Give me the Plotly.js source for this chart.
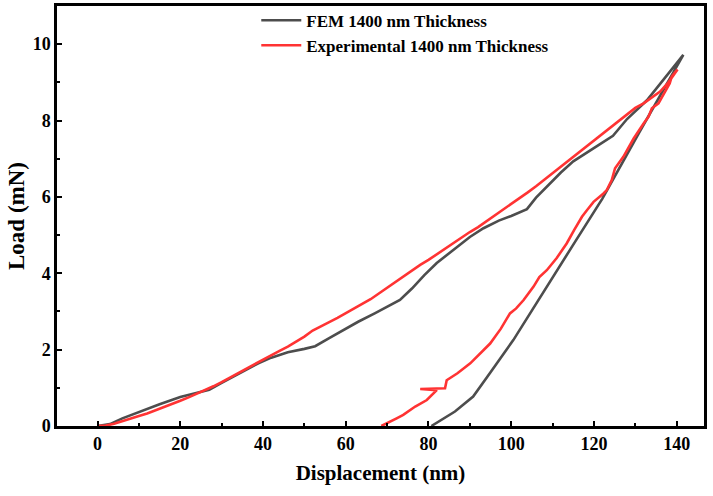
<!DOCTYPE html>
<html>
<head>
<meta charset="utf-8">
<script src="https://cdn.plot.ly/plotly-3.0.1.min.js"></script>
<style>
  html, body { margin: 0; padding: 0; background: #ffffff; }
  #chart { width: 713px; height: 496px; }
</style>
</head>
<body>
<div id="chart"></div>
<script>
// Load–displacement curves of a 1400 nm film: FEM simulation vs. nanoindentation test

// FEM: loading branch followed by the unloading branch
const femDisplacement = [
  0, 3, 6, 10, 15, 20, 23, 25, 27, 30, 33, 36, 39, 42, 46, 50, 52.6, 56, 59.4, 63, 67, 70, 73.1,
  76, 79, 82, 86, 90, 93.3, 97, 100, 103.8, 106, 109.4, 112, 115, 118, 121, 124.6, 128, 132.8, 137, 141.6,
  131, 122, 115, 107, 100.5, 95, 90.8, 86.4, 83, 80.7
];
const femLoad = [
  0, 0.05, 0.2, 0.37, 0.57, 0.76, 0.85, 0.89, 0.95, 1.13, 1.3, 1.48, 1.65, 1.79, 1.93, 2.02, 2.09, 2.3, 2.51, 2.73, 2.95, 3.12, 3.3,
  3.6, 3.95, 4.27, 4.6, 4.95, 5.18, 5.38, 5.5, 5.68, 5.98, 6.36, 6.64, 6.93, 7.15, 7.35, 7.6, 8.04, 8.53, 9.1, 9.72,
  7.7, 5.95, 4.75, 3.38, 2.25, 1.41, 0.77, 0.38, 0.15, 0
];

// Experiment: loading branch
const expLoadingDisplacement = [
  0, 2, 4, 6, 8, 10, 12, 14, 16, 18, 20, 22, 24, 26, 28, 30, 32, 34, 36, 38, 40, 42, 44, 46, 48, 50,
  52, 54, 56, 58, 60, 62, 64, 66, 68, 70, 72, 74, 76, 78, 80, 82, 84, 86, 88, 90, 92, 94, 96, 98, 100,
  102, 104, 106, 108, 110, 112, 114, 116, 118, 120, 122, 124, 126, 128, 130, 132, 134, 136, 138, 140.2
];
const expLoadingLoad = [
  0, 0.01, 0.06, 0.12, 0.19, 0.26, 0.33, 0.41, 0.49, 0.57, 0.66, 0.75, 0.84, 0.94, 1.04, 1.15, 1.27, 1.38, 1.5, 1.62, 1.74, 1.86, 1.97, 2.08, 2.2, 2.34,
  2.5, 2.6, 2.72, 2.83, 2.95, 3.07, 3.2, 3.32, 3.47, 3.62, 3.78, 3.92, 4.08, 4.22, 4.35, 4.5, 4.63, 4.78, 4.93, 5.08, 5.21, 5.36, 5.5, 5.66, 5.81,
  5.96, 6.12, 6.28, 6.45, 6.62, 6.78, 6.95, 7.12, 7.3, 7.47, 7.64, 7.82, 7.98, 8.16, 8.33, 8.45, 8.6, 8.76, 9.0, 9.34
];

// Experiment: unloading branch (with the short slip near 1 mN)
const expUnloadingDisplacement = [
  138.8, 138.3, 136.4, 135.6, 134, 133.2, 132, 130, 129.6, 127.1, 125.1, 124.3, 123.1, 122.3, 119.9, 118.3, 117.1,
  115.2, 113.4, 111, 108.6, 106.8, 105.4, 103, 101.2, 99.7, 97.5, 94.9, 92.4, 90.1, 87, 85.2,
  84.4, 84, 78, 82, 79.6, 76.8, 73.9, 72.3, 70.7, 69.1, 68.6
];
const expUnloadingLoad = [
  9.15, 8.97, 8.58, 8.45, 8.32, 8.1, 7.92, 7.57, 7.53, 7.05, 6.75, 6.44, 6.18, 6.09, 5.87, 5.65, 5.48,
  5.13, 4.78, 4.4, 4.08, 3.9, 3.65, 3.3, 3.08, 2.95, 2.55, 2.16, 1.88, 1.64, 1.38, 1.24,
  1.2, 0.99, 0.97, 0.94, 0.68, 0.51, 0.29, 0.2, 0.11, 0.03, 0
];

const expDisplacement = expLoadingDisplacement.concat(expUnloadingDisplacement);
const expLoad = expLoadingLoad.concat(expUnloadingLoad);

const serif = '"Liberation Serif", "Times New Roman", serif';

const traces = [
  {
    x: femDisplacement, y: femLoad,
    type: 'scatter', mode: 'lines',
    name: '<b>FEM 1400 nm Thickness</b>',
    legendgroup: 'fem',
    line: { color: '#4d4d4d', width: 2.6 }
  },
  {
    x: expDisplacement, y: expLoad,
    type: 'scatter', mode: 'lines',
    name: '<b>Experimental 1400 nm Thickness</b>',
    legendgroup: 'exp',
    line: { color: '#ff3333', width: 2.6 }
  }
];

const axisCommon = {
  showgrid: false,
  zeroline: false,
  showline: true,
  mirror: true,
  linecolor: '#000000',
  linewidth: 2.6,
  ticks: 'inside',
  ticklen: 5,
  tickwidth: 2,
  tickcolor: '#000000',
  tickfont: { family: serif, size: 18, color: '#000000', weight: 'bold' }
};

const layout = {
  width: 713,
  height: 496,
  margin: { l: 57, r: 9, t: 6, b: 70, autoexpand: false },
  paper_bgcolor: '#ffffff',
  plot_bgcolor: '#ffffff',
  font: { family: serif, color: '#000000' },
  showlegend: true,
  legend: {
    x: 0.308, xanchor: 'left',
    y: 1.008, yanchor: 'top',
    bgcolor: 'rgba(0,0,0,0)',
    traceorder: 'grouped',
    tracegroupgap: 0,
    font: { family: serif, size: 17, color: '#000000' },
    itemwidth: 40
  },
  xaxis: Object.assign({}, axisCommon, {
    range: [-9.8, 146.6],
    tickvals: [0, 20, 40, 60, 80, 100, 120, 140],
    minor: { tickvals: [10, 30, 50, 70, 90, 110, 130], ticks: 'inside', ticklen: 3, tickwidth: 2, tickcolor: '#000000' },
    title: { text: '<b>Displacement (nm)</b>', font: { family: serif, size: 21, color: '#000000' }, standoff: 12 }
  }),
  yaxis: Object.assign({}, axisCommon, {
    range: [0, 11],
    tickvals: [0, 2, 4, 6, 8, 10],
    minor: { tickvals: [1, 3, 5, 7, 9], ticks: 'inside', ticklen: 3, tickwidth: 2, tickcolor: '#000000' },
    title: { text: '<b>Load (mN)</b>', font: { family: serif, size: 23, color: '#000000' }, standoff: 2 }
  })
};

Plotly.newPlot('chart', traces, layout, { staticPlot: true, displayModeBar: false });
</script>
</body>
</html>
